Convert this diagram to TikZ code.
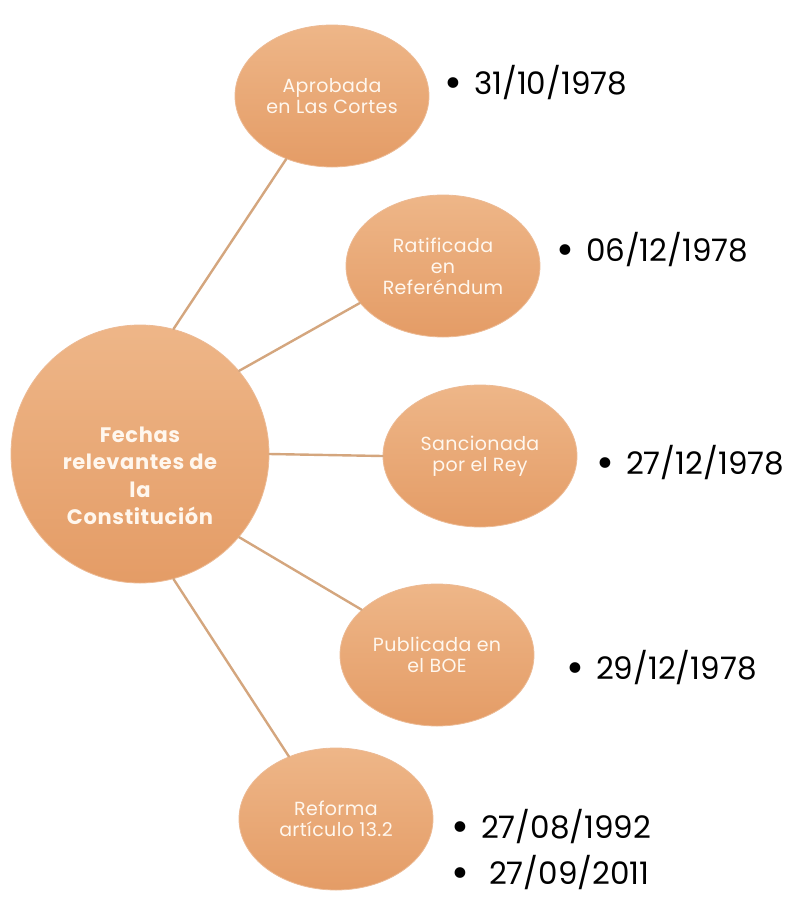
\documentclass[tikz,border=0pt]{standalone}
\usepackage{fontspec}
\setmainfont{Poppins}
\usetikzlibrary{shapes.geometric}
\definecolor{naranja}{RGB}{232,166,112}
\definecolor{naranjaclaro}{RGB}{238,182,136}
\definecolor{naranjaosc}{RGB}{228,156,102}
\definecolor{linea}{RGB}{212,166,126}
\definecolor{crema}{RGB}{255,247,238}
\newcommand{\punto}{\raisebox{-3pt}{\scalebox{1.4}{\textbullet}}}
\begin{document}
\begin{tikzpicture}[x=1pt, y=-1pt, line join=round, line cap=round,
	burbuja/.style={ellipse, minimum width=194pt, minimum height=142pt, inner sep=0pt,
		top color=naranjaclaro, bottom color=naranjaosc, draw=naranjaosc!70!white, line width=0.8pt,
		text=crema, align=center, font=\fontsize{19}{21}\selectfont\addfontfeatures{LetterSpace=2}},
	centro/.style={circle, minimum size=258pt, inner sep=0pt,
		top color=naranjaclaro, bottom color=naranjaosc, draw=naranjaosc!70!white, line width=0.8pt},
	fecha/.style={anchor=west, inner sep=0pt, font=\fontsize{31}{36}\selectfont},
	rayo/.style={draw=linea, line width=2.4pt}]
\useasboundingbox (0,0) rectangle (787,898);
% Nodo central
\node[centro] (hub) at (140,454) {};
\node[text=crema, align=center, font=\bfseries\fontsize{21}{27.5}\selectfont\addfontfeatures{LetterSpace=3}] (hubtxt) at (140,476)
	{Fechas\\relevantes de\\la\\Constitución};
% Burbujas
\node[burbuja] (apr) at (332,96) {Aprobada\\en Las Cortes};
\node[burbuja] (rat) at (443,266) {Ratificada\\en\\Referéndum};
\node[burbuja] (san) at (480,456) {Sancionada\\por el Rey};
\node[burbuja] (pub) at (437,655) {Publicada en\\el BOE};
\node[burbuja] (ref) at (336,819) {Reforma\\artículo 13.2};
% Uniones
\draw[rayo] (hub.75)--(apr.234);
\draw[rayo] (hub.40)--(rat.204);
\draw[rayo] (hub.0)--(san.180);
\draw[rayo] (hub.-40)--(pub.149);
\draw[rayo] (hub.-75)--(ref.127);
% Fechas
\node[fecha] (f1) at (444,83) {\punto\hspace{12pt}31/10/1978};
\node[fecha] (f2) at (556,250) {\punto\hspace{12pt}06/12/1978};
\node[fecha] (f3) at (596,463) {\punto\hspace{12pt}27/12/1978};
\node[fecha] (f4) at (566,668) {\punto\hspace{12pt}29/12/1978};
\node[fecha] (f5) at (451,827) {\punto\hspace{12pt}27/08/1992};
\node[fecha] (f6) at (451,873) {\punto\hspace{20pt}27/09/2011};
\end{tikzpicture}
\end{document}
